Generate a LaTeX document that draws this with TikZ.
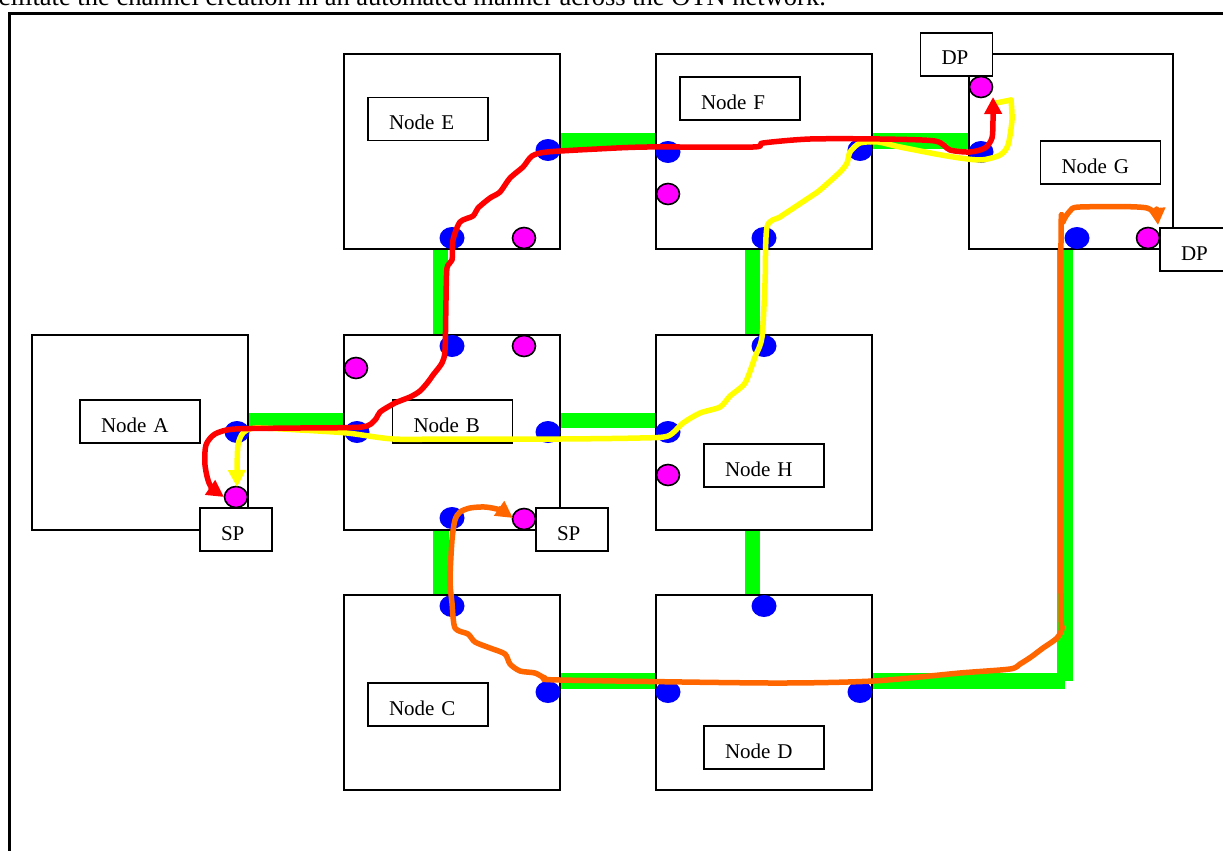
\documentclass[tikz,border=0pt]{standalone}
\usepackage{fontspec}
\setmainfont{Liberation Serif}
\usetikzlibrary{arrows.meta,shapes.geometric}
\definecolor{lnkgreen}{RGB}{0,255,0}
\definecolor{pathred}{RGB}{255,0,0}
\definecolor{pathyellow}{RGB}{255,255,0}
\definecolor{pathorange}{RGB}{255,102,0}
\definecolor{dotblue}{RGB}{0,0,255}
\definecolor{dotmag}{RGB}{255,0,255}
\begin{document}
\begin{tikzpicture}[x=1pt,y=-1pt,
  every node/.style={font=\fontsize{21}{25}\selectfont},
  nodebox/.style={draw, line width=2pt, minimum width=216pt, minimum height=195pt, inner sep=0pt},
  lbl/.style={draw, fill=white, line width=1.8pt, minimum height=43pt, inner xsep=21pt, inner ysep=0pt,
              text height=21pt, text depth=0pt, align=left, text width=78pt},
  slbl/.style={lbl, text width=30pt},
  bdot/.style={ellipse, fill=dotblue, minimum width=25pt, minimum height=22pt, inner sep=0pt},
  mdot/.style={ellipse, fill=dotmag, draw=black, line width=1.6pt, minimum width=23pt, minimum height=21pt, inner sep=0pt},
  link/.style={fill=lnkgreen},
  route/.style={line width=5.5pt, line cap=round, line join=round},
  tip/.style={-{Triangle[length=17pt,width=17pt]}},
  tips/.style={{Triangle[length=17pt,width=17pt]}-{Triangle[length=17pt,width=17pt]}}
]
\useasboundingbox (0,0) rectangle (1223,851);
\clip (0,0) rectangle (1223,851);

% caption fragment (cut off at the top edge, as in the source)
\node[anchor=base east, inner sep=0pt, font=\fontsize{26.5}{30}\selectfont] (cap) at (826,6)
  {facilitate the channel creation in an automated manner across the OTN network.};

% outer frame
\draw[line width=3pt] (1240,14) -- (9,14) -- (9,870);

% green links
\fill[link] (248,413) rectangle (344,428);   % A-B
\fill[link] (560,413) rectangle (656,428);   % B-H
\fill[link] (433,249) rectangle (448,335);   % E-B
\fill[link] (745,249) rectangle (760,335);   % F-H
\fill[link] (433,530) rectangle (449,595);   % B-C
\fill[link] (745,530) rectangle (760,595);   % H-D
\fill[link] (560,133) rectangle (656,149);   % E-F
\fill[link] (872,133) rectangle (968,149);   % F-G
\fill[link] (560,673) rectangle (656,689);   % C-D
\fill[link] (872,673) rectangle (1065,689);  % D-G horizontal
\fill[link] (1057,249) rectangle (1073,681); % D-G vertical

% node boxes
\node[nodebox] (A) at (140,432.5) {};
\node[nodebox] (B) at (452,432.5) {};
\node[nodebox] (E) at (452,151.5) {};
\node[nodebox] (F) at (764,151.5) {};
\node[nodebox, minimum width=204pt] (G) at (1071,151.5) {};
\node[nodebox] (H) at (764,432.5) {};
\node[nodebox] (C) at (452,692) {};
\node[nodebox] (D) at (764,692) {};

% labels
\node[lbl] (lA) at (140,421.5) {Node A};
\node[lbl] (lB) at (452.5,421.5) {Node B};
\node[lbl] (lE) at (428,119) {Node E};
\node[lbl] (lF) at (740,98.5) {Node F};
\node[lbl] (lG) at (1100.5,162.5) {Node G};
\node[lbl] (lH) at (764,465.5) {Node H};
\node[lbl] (lC) at (428,704.5) {Node C};
\node[lbl] (lD) at (764,747.5) {Node D};
\node[slbl] (spA) at (236,529.5) {SP};
\node[slbl] (spB) at (572,529.5) {SP};
\node[slbl] (dp1) at (956.5,54.5) {DP};
\node[slbl] (dp2) at (1196,249.5) {DP};

% blue ports
\node[bdot] (pA1) at (237,432) {};
\node[bdot] (pB1) at (357,432) {};
\node[bdot] (pB2) at (548,432) {};
\node[bdot] (pB3) at (452,346) {};
\node[bdot] (pB4) at (452,518) {};
\node[bdot] (pC1) at (452,606) {};
\node[bdot] (pC2) at (548,692) {};
\node[bdot] (pD1) at (668,692) {};
\node[bdot] (pD2) at (764,606) {};
\node[bdot] (pD3) at (860,692) {};
\node[bdot] (pE1) at (548,150) {};
\node[bdot] (pE2) at (452,238) {};
\node[bdot] (pF1) at (668,152) {};
\node[bdot] (pF2) at (860,150) {};
\node[bdot] (pF3) at (764,238) {};
\node[bdot] (pH1) at (764,346) {};
\node[bdot] (pH2) at (668,432) {};
\node[bdot] (pG1) at (981,152) {};
\node[bdot] (pG2) at (1077,238) {};

% magenta client ports
\node[mdot] (mA) at (236,497) {};
\node[mdot] (mB1) at (524,519) {};
\node[mdot] (mB2) at (524,346) {};
\node[mdot] (mB3) at (356,368) {};
\node[mdot] (mE) at (524,238) {};
\node[mdot] (mF) at (668,194) {};
\node[mdot] (mH) at (668,475) {};
\node[mdot] (mG1) at (981,87) {};
\node[mdot] (mG2) at (1148,238) {};

% yellow route
\draw[route, pathyellow, tip] plot[smooth, tension=0.45] coordinates {
  (1011,100) (1012,120) (1008,145) (1000,155) (980,160) (947,156) (900,147) (878,142)
  (860,143) (850,152) (847,163) (840,172) (820,190) (810,197) (795,207) (780,217)
  (767,227) (765,283) (762,337) (755,357) (745,383) (730,396) (720,407) (700,413)
  (683,423) (668,436) (640,438) (560,439) (450,439) (393,439) (347,433) (300,430)
  (255,428) (243,433) (238,445) (237,470) (237,487)};
\draw[route, pathyellow] (1011,100) -- (996,103);

% red route
\draw[route, pathred, tips] plot[smooth, tension=0.45] coordinates {
  (224,497) (210,485) (205,465) (206,445) (215,434) (235,429) (300,428) (362,427)
  (375,420) (380,412) (395,403) (410,397) (420,391) (428,382) (433,375) (442,363)
  (445,350) (446,300) (447,268) (452,260) (453,240) (460,222) (473,216) (478,208)
  (490,198) (500,192) (510,178) (523,167) (532,156) (547,152) (597,149) (647,147)
  (753,147) (763,143) (810,139) (880,139) (935,141) (950,150) (970,152) (985,148)
  (992,138) (993,120) (993,97)};

% orange route
\draw[route, pathorange, tips] plot[smooth, tension=0.45] coordinates {
  (513,518) (500,510) (485,507) (470,508) (460,512) (455,520) (452,540) (450,580)
  (452,603) (455,628) (468,634) (475,642) (490,648) (505,654) (510,664) (520,671)
  (535,673) (545,678) (560,680) (770,683) (873,681) (960,673) (1010,669) (1020,664)
  (1031,657) (1043,648) (1057,638) (1062,627) (1061,600) (1061,240) (1063,222)
  (1070,211) (1080,207) (1147,208) (1158,225)};
\end{tikzpicture}
\end{document}
